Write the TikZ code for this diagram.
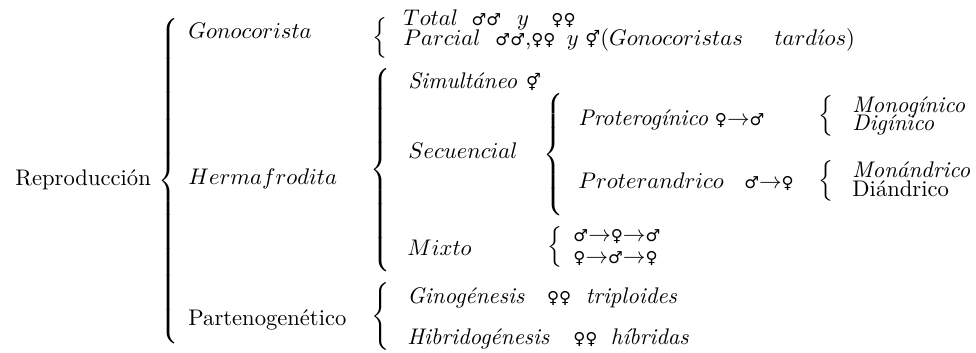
\documentclass[tikz,border=0pt]{standalone}
\usepackage{fontspec}
\usepackage{graphicx}
\newfontfamily\symfont{DejaVu Sans}
\newcommand\sx[1]{\mbox{\symfont\fontsize{7.3}{8}\selectfont #1}}
\newcommand\lbr[1]{$\left\{\vcenter{\hbox{\rule{0pt}{#1}}}\right.$}
\newcommand\mbr{$\Big\{$}
\begin{document}
\begin{tikzpicture}[x=0.4425pt,y=-0.4425pt,
  txt/.style={anchor=base west, inner sep=0pt},
  brc/.style={anchor=west, inner sep=0pt}]
\useasboundingbox (0,0) rectangle (976,352);
% level 0
\node[txt] (rep) at (15,185) {Reproducción};
\node[brc] (b0) at (158,181) {\lbr{148pt}};
% level 1
\node[txt] (gono) at (188,38) {$Gonocorista$};
\node[txt] (herm) at (188,184) {$Hermafrodita$};
\node[txt] (part) at (188,325) {Partenogenético};
% gonocorista
\node[brc] (bg) at (372,38) {\mbr};
\node[txt] (tot) at (403,26) {$Total$\hspace{6pt}\sx{♂♂}\hspace{7pt}$y$\hspace{10pt}\sx{♀♀}};
\node[txt] (par) at (403,45) {$Parcial$\hspace{6.6pt}\sx{♂♂},\sx{♀♀}\hspace{5pt}$y$\hspace{3pt}\sx{⚥}$(Gonocoristas$\hspace{14pt}$tard\acute{\imath}os)$};
% hermafrodita
\node[brc] (bh) at (370,170) {\lbr{91pt}};
\node[txt] (sim) at (408,88) {\textit{Simultáneo}\hspace{4pt}\sx{⚥}};
\node[txt] (sec) at (408,158) {$Secuencial$};
\node[brc] (bs) at (543,155) {\lbr{55pt}};
\node[txt] (pgi) at (578,125) {\textit{Proterogínico}\hspace{3pt}\sx{♀}$\to$\sx{♂}};
\node[txt] (pan) at (578,188) {$Proterandrico$\hspace{9pt}\sx{♂}$\to$\sx{♀}};
\node[brc] (bpg) at (818,116) {\mbr};
\node[txt] (mog) at (852,112) {\textit{Monogínico}};
\node[txt] (dig) at (852,130) {\textit{Digínico}};
\node[brc] (bpa) at (818,181) {\mbr};
\node[txt] (moa) at (852,177) {\textit{Monándrico}};
\node[txt] (dia) at (852,196) {Diándrico};
\node[txt] (mix) at (407,255) {$Mixto$};
\node[brc] (bm) at (547,247) {\mbr};
\node[txt] (m1) at (573,241) {\sx{♂}$\to$\sx{♀}$\to$\sx{♂}};
\node[txt] (m2) at (573,263) {\sx{♀}$\to$\sx{♂}$\to$\sx{♀}};
% partenogenetico
\node[brc] (bp) at (371,316) {\lbr{28pt}};
\node[txt] (gin) at (407,303) {\textit{Ginogénesis}\hspace{10pt}\sx{♀♀}\hspace{6.5pt}\textit{triploides}};
\node[txt] (hib) at (407,344) {\textit{Hibridogénesis}\hspace{10.5pt}\sx{♀♀}\hspace{6pt}\textit{híbridas}};
\end{tikzpicture}
\end{document}
